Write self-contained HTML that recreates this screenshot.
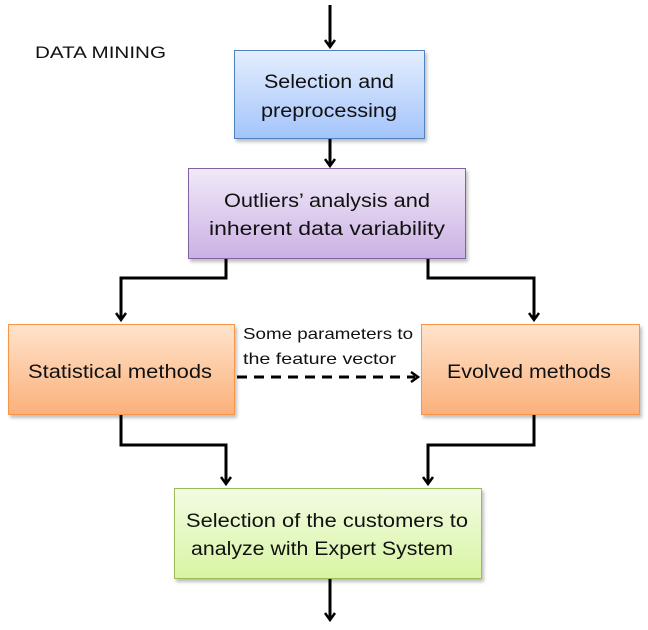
<!DOCTYPE html>
<html><head><meta charset="utf-8"><style>
html,body{margin:0;padding:0;background:#fff;width:648px;height:630px;overflow:hidden}
svg{display:block}
text{font-family:"Liberation Sans",sans-serif;fill:#111}
</style></head><body>
<svg width="648" height="630" viewBox="0 0 648 630" xmlns="http://www.w3.org/2000/svg">
<defs>
<linearGradient id="gb" x1="0" y1="0" x2="0" y2="1"><stop offset="0" stop-color="#e4eefe"/><stop offset="1" stop-color="#a3c4fb"/></linearGradient>
<linearGradient id="gp" x1="0" y1="0" x2="0" y2="1"><stop offset="0" stop-color="#f1e9f8"/><stop offset="1" stop-color="#cbb1e4"/></linearGradient>
<linearGradient id="go" x1="0" y1="0" x2="0" y2="1"><stop offset="0" stop-color="#ffe3cc"/><stop offset="1" stop-color="#fbb07a"/></linearGradient>
<linearGradient id="gg" x1="0" y1="0" x2="0" y2="1"><stop offset="0" stop-color="#f2fbe4"/><stop offset="1" stop-color="#d8f5a2"/></linearGradient>
<filter id="s" x="-5%" y="-5%" width="115%" height="120%"><feDropShadow dx="2" dy="3" stdDeviation="1.5" flood-color="#000" flood-opacity="0.25"/></filter>
</defs>
<g stroke="#000" stroke-width="3" fill="none">
<path d="M330 5 V47"/>
<path d="M330 139 V166"/>
<path d="M226 259 V278 H121 V320"/>
<path d="M428 259 V278 H534 V320"/>
<path d="M121 415 V445 H226 V484"/>
<path d="M534 415 V445 H428 V484"/>
<path d="M330 579 V620"/>
</g>
<g stroke="#000" stroke-width="2.5" fill="none">
<path d="M325 40 L330 47 L335 40"/>
<path d="M325 159 L330 166 L335 159"/>
<path d="M116 313 L121 320 L126 313"/>
<path d="M529 313 L534 320 L539 313"/>
<path d="M221 477 L226 484 L231 477"/>
<path d="M423 477 L428 484 L433 477"/>
<path d="M325 613 L330 620 L335 613"/>
<path d="M411 372 L418 377 L411 382"/>
</g>
<path d="M237 377 H415" stroke="#000" stroke-width="3" stroke-dasharray="10,7" fill="none"/>
<rect x="234.5" y="50.5" width="190" height="88" fill="url(#gb)" stroke="#4f81bd" filter="url(#s)"/>
<rect x="188.5" y="168.5" width="277" height="90" fill="url(#gp)" stroke="#8064a2" filter="url(#s)"/>
<rect x="8.5" y="324.5" width="226" height="90" fill="url(#go)" stroke="#f79646" filter="url(#s)"/>
<rect x="421.5" y="324.5" width="218" height="90" fill="url(#go)" stroke="#f79646" filter="url(#s)"/>
<rect x="174.5" y="488.5" width="307" height="90" fill="url(#gg)" stroke="#9bbb59" filter="url(#s)"/>
<text x="35" y="58" font-size="17" textLength="131" lengthAdjust="spacingAndGlyphs">DATA MINING</text>
<g font-size="19" text-anchor="middle">
<text x="329" y="88" textLength="130" lengthAdjust="spacingAndGlyphs">Selection and</text>
<text x="329" y="117" textLength="136" lengthAdjust="spacingAndGlyphs">preprocessing</text>
<text x="327" y="207" textLength="206" lengthAdjust="spacingAndGlyphs">Outliers’ analysis and</text>
<text x="327" y="235" textLength="236" lengthAdjust="spacingAndGlyphs">inherent data variability</text>
<text x="120" y="378" textLength="184" lengthAdjust="spacingAndGlyphs">Statistical methods</text>
<text x="529" y="378" textLength="164" lengthAdjust="spacingAndGlyphs">Evolved methods</text>
<text x="327" y="527" textLength="282" lengthAdjust="spacingAndGlyphs">Selection of the customers to</text>
<text x="322" y="555" textLength="262" lengthAdjust="spacingAndGlyphs">analyze with Expert System</text>
</g>
<text x="243" y="339" font-size="16" textLength="170" lengthAdjust="spacingAndGlyphs">Some parameters to</text>
<text x="243" y="364" font-size="16" textLength="153" lengthAdjust="spacingAndGlyphs">the feature vector</text>
</svg>
</body></html>
